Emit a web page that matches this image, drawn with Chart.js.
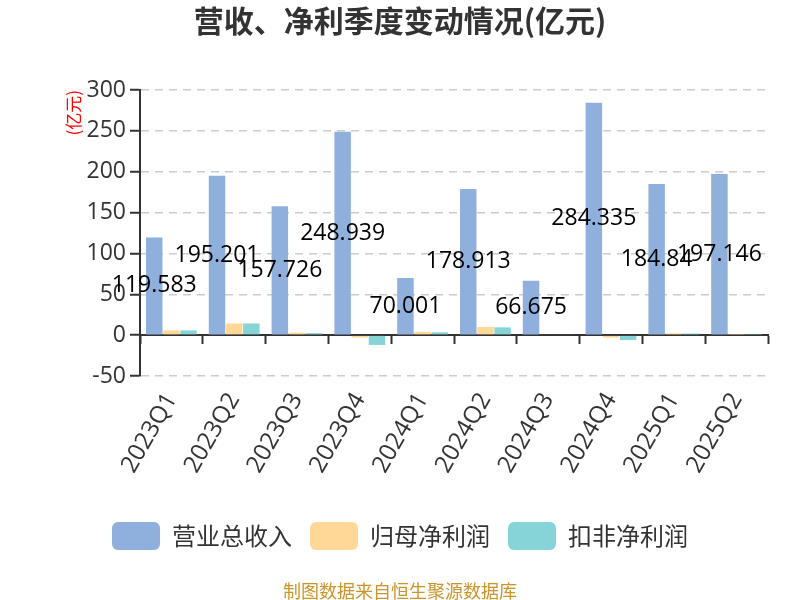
<!DOCTYPE html>
<html>
<head>
<meta charset="utf-8">
<script src="https://cdn.jsdelivr.net/npm/chart.js@4"></script>
<style>
  body { margin: 0; background: #fff; }
  #wrap { position: relative; width: 800px; height: 600px; }
  #source {
    position: absolute; left: 0; width: 800px; top: 577px; line-height: 26px;
    text-align: center; color: #C9952B; font-size: 18px;
    font-family: "Noto Sans CJK SC", sans-serif;
  }
</style>
</head>
<body>
<div id="wrap">
  <canvas id="chart" width="800" height="600"></canvas>
  <div id="source">制图数据来自恒生聚源数据库</div>
</div>
<script>
"use strict";

// 季度
const quarters = ["2023Q1", "2023Q2", "2023Q3", "2023Q4", "2024Q1", "2024Q2", "2024Q3", "2024Q4", "2025Q1", "2025Q2"];
// 营业总收入（亿元）
const revenue = [119.583, 195.201, 157.726, 248.939, 70.001, 178.913, 66.675, 284.335, 184.84, 197.146];
// 归母净利润（亿元，图上估读）
const netProfit = [5.8, 14.3, 3, -3, 4, 10, 1, -3, 2.2, 0.4];
// 扣非净利润（亿元，图上估读）
const netProfitDeducted = [5.8, 14.3, 2.5, -12, 3.5, 9.5, 0.8, -6, 2, 0.5];
// y 轴刻度
const yTicks = [-50, 0, 50, 100, 150, 200, 250, 300];

const cjk = "'Noto Sans CJK SC', sans-serif";
const num = "'Open Sans', 'Noto Sans CJK SC', sans-serif";

/**
 * 在营业总收入柱子中间写数值
 */
const barLabels = {
    id: "barLabels",
    afterDatasetsDraw(chart){
        const ctx = chart.ctx;
        const meta = chart.getDatasetMeta(0);
        ctx.save();
        ctx.font = "23px " + num;
        ctx.fillStyle = "#000";
        ctx.textAlign = "center";
        ctx.textBaseline = "middle";
        meta.data.forEach((bar, i) => {
            ctx.fillText(String(revenue[i]), bar.x, (bar.y + bar.base) / 2);
        });
        ctx.restore();
    }
};

new Chart(document.getElementById("chart"), {
    type: "bar",
    data: {
        labels: quarters,
        datasets: [
            { label: "营业总收入", data: revenue, backgroundColor: "#8FAFDC" },
            { label: "归母净利润", data: netProfit, backgroundColor: "#FFD898" },
            { label: "扣非净利润", data: netProfitDeducted, backgroundColor: "#87D4D8" }
        ]
    },
    options: {
        responsive: false,
        animation: false,
        barPercentage: 0.96,
        categoryPercentage: 0.82,
        layout: { padding: { left: 32, right: 32, bottom: 40 } },
        plugins: {
            title: {
                display: true,
                text: "营收、净利季度变动情况(亿元)",
                color: "#333",
                font: { family: cjk, size: 30, weight: "bold" },
                padding: { top: 3, bottom: 51 }
            },
            legend: {
                position: "bottom",
                labels: {
                    color: "#333",
                    font: { family: cjk, size: 24 },
                    boxWidth: 48,
                    boxHeight: 28,
                    useBorderRadius: true,
                    borderRadius: 6,
                    padding: 18
                }
            },
            tooltip: { enabled: false }
        },
        scales: {
            x: {
                position: { y: 0 },
                offset: true,
                grid: { offset: true, drawOnChartArea: false, tickLength: 8, tickColor: "#333", tickWidth: 2 },
                border: { color: "#333", width: 2 },
                ticks: { display: false }
            },
            x2: {
                type: "category",
                labels: quarters,
                position: "bottom",
                offset: true,
                grid: { display: false },
                border: { display: false },
                ticks: {
                    color: "#333",
                    font: { family: num, size: 24 },
                    minRotation: 60,
                    maxRotation: 60,
                    padding: 4
                },
                afterFit(scale){ scale.height = 128; }
            },
            y: {
                min: -50,
                max: 300,
                afterBuildTicks(scale){ scale.ticks = yTicks.map(v => ({ value: v })); },
                afterFit(scale){ scale.width = 108; },
                grid: { color: "#ccc", lineWidth: 1.5, tickLength: 10, tickColor: "#333", tickWidth: 2 },
                border: { color: "#333", width: 2, dash: [8, 6] },
                ticks: { color: "#333", font: { family: num, size: 23 }, padding: 4 },
                title: {
                    display: true,
                    text: "(亿元)",
                    align: "end",
                    color: "red",
                    font: { family: cjk, size: 17 },
                    padding: { top: 31, bottom: 0 }
                }
            }
        }
    },
    plugins: [barLabels]
});
</script>
</body>
</html>
